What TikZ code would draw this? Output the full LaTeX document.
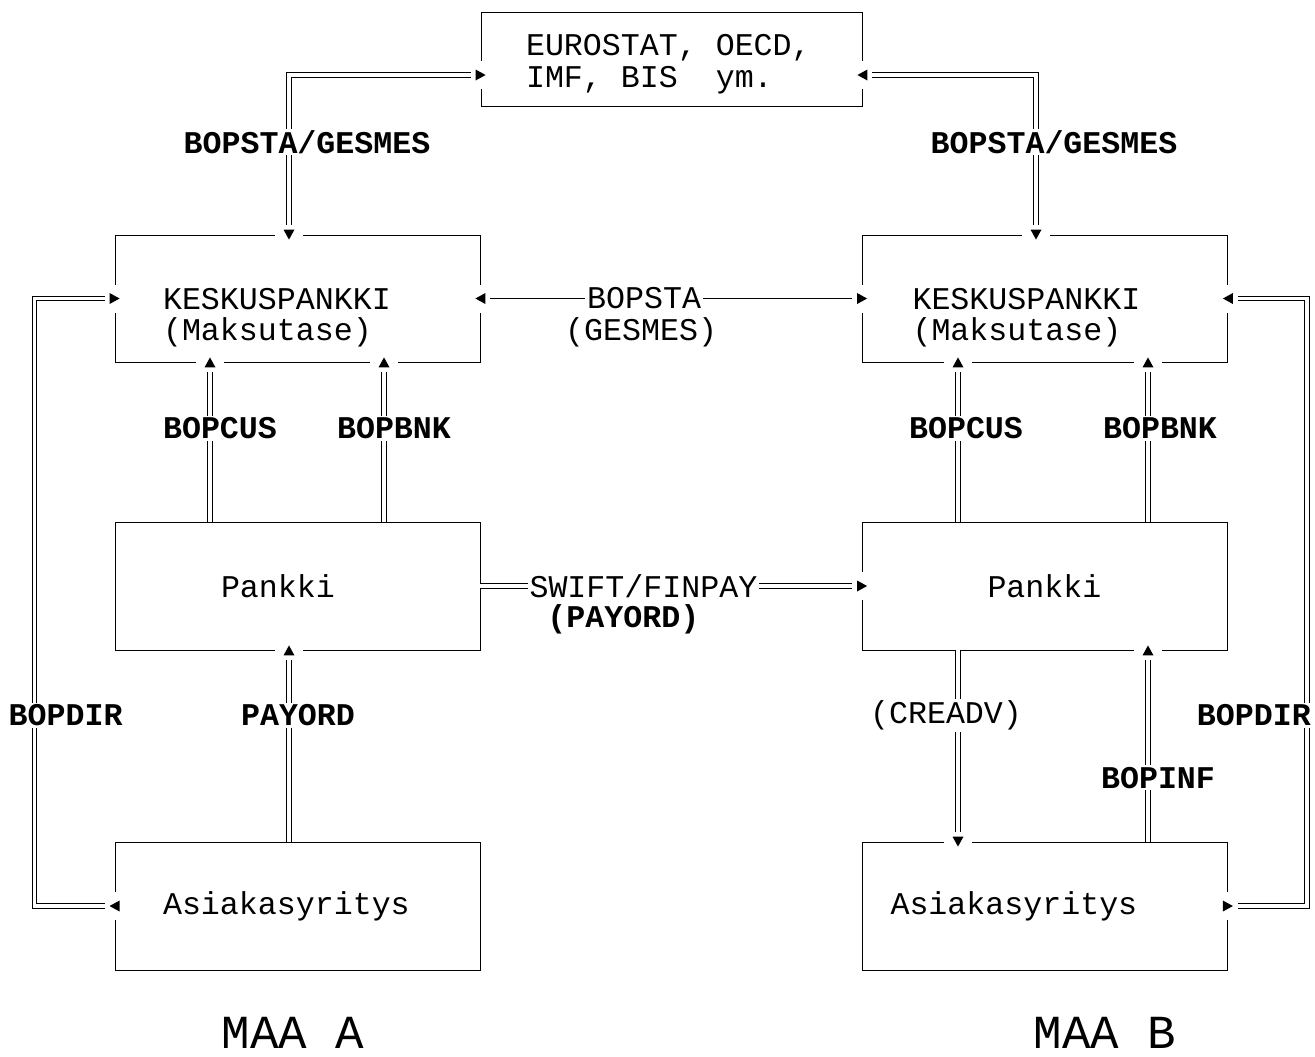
\documentclass[tikz,border=0pt]{standalone}
\usepackage{fontspec}
\setmainfont{Liberation Mono}
\usetikzlibrary{calc,positioning}

\tikzset{
  box/.style={draw,line width=0.5pt,align=left,minimum width=7.3cm,minimum height=2.56cm,
    execute at begin node={\spaceskip=0.6em\relax}},
  dbl/.style={double,double distance=2pt,line width=0.6pt},
  sgl/.style={line width=0.5pt},
  lbl/.style={fill=white,inner sep=1pt,font=\fontsize{18}{18}\selectfont\bfseries},
  lblr/.style={fill=white,inner sep=1pt},
  gaptip/.pic={
    \fill[white] (-3,-14) rectangle (3,14);
    \fill (5,0) -- (-5,5.5) -- (-5,-5.5) -- cycle;
  }
}

\begin{document}
\begin{tikzpicture}[x=0.02cm,y=-0.02cm,every node/.style={font=\fontsize{18}{18}\selectfont}]
  \frenchspacing
  \useasboundingbox (0,0) rectangle (1315,1056);

  % boxes
  \node[box,minimum width=7.62cm,minimum height=1.88cm,text width=5.82cm,inner xsep=0.9cm] (es) at (671.5,59) {\rule{0pt}{18pt}EUROSTAT, OECD,\\IMF, BIS\ \ ym.};
  \node[box,minimum height=2.54cm,text width=5.38cm,inner xsep=0.96cm] (kpA) at (297.5,298.5) {\rule{0pt}{34pt}KESKUSPANKKI\\(Maksutase)};
  \node[box,minimum height=2.54cm,text width=5.3cm,inner xsep=1cm] (kpB) at (1045,298.5) {\rule{0pt}{34pt}KESKUSPANKKI\\(Maksutase)};
  \node[box,text width=3.06cm,inner xsep=2.12cm] (pkA) at (297.5,586) {Pankki};
  \node[box,text width=2.3cm,inner xsep=2.5cm] (pkB) at (1045,586) {Pankki};
  \node[box,text width=5.38cm,inner xsep=0.96cm] (asA) at (297.5,906) {Asiakasyritys};
  \node[box,text width=6.18cm,inner xsep=0.56cm] (asB) at (1045,906) {Asiakasyritys};

  \coordinate (esW) at ([yshift=-0.32cm]es.west);
  \coordinate (esE) at ([yshift=-0.32cm]es.east);

  % to EUROSTAT etc.
  \draw[dbl,shorten <=0.2cm,shorten >=0.2cm] (esW) -| node[lbl,pos=0.71,xshift=0.36cm] {BOPSTA/GESMES} (kpA.north -| 289,0);
  \draw[dbl,shorten <=0.2cm,shorten >=0.2cm] (esE) -| node[lbl,pos=0.71,xshift=0.36cm] {BOPSTA/GESMES} (kpB.north -| 1036,0);

  % between the central banks
  \draw[sgl,shorten <=0.2cm,shorten >=0.2cm] (kpA.east) -- node[lblr,pos=0.429] (bs) {BOPSTA} (kpB.west);
  \node[lblr,anchor=base] (gs) at ([xshift=-0.06cm,yshift=-18pt]bs.base) {(GESMES)};

  % between the banks
  \draw[dbl,shorten >=0.2cm] (pkA.east) -- node[lblr,pos=0.427] (sw) {SWIFT/FINPAY} (pkB.west);
  \node[lbl,anchor=base] (po) at ([xshift=-0.4cm,yshift=-17pt]sw.base) {(PAYORD)};

  % bank -> central bank
  \draw[dbl,shorten >=0.2cm] (pkA.north -| 210,0) -- node[lbl,pos=0.5875,xshift=0.2cm] {BOPCUS} (kpA.south -| 210,0);
  \draw[dbl,shorten >=0.2cm] (pkA.north -| 384,0) -- node[lbl,pos=0.5875,xshift=0.2cm] {BOPBNK} (kpA.south -| 384,0);
  \draw[dbl,shorten >=0.2cm] (pkB.north -| 958,0) -- node[lbl,pos=0.5875,xshift=0.16cm] {BOPCUS} (kpB.south -| 958,0);
  \draw[dbl,shorten >=0.2cm] (pkB.north -| 1148,0) -- node[lbl,pos=0.5875,xshift=0.24cm] {BOPBNK} (kpB.south -| 1148,0);

  % customer <-> bank
  \draw[dbl,shorten >=0.2cm] (asA.north -| 289,0) -- node[lbl,pos=0.661,xshift=0.18cm] {PAYORD} (pkA.south -| 289,0);
  \draw[dbl,shorten >=0.2cm] (pkB.south -| 958,0) -- node[lblr,pos=0.339,xshift=-0.24cm] {(CREADV)} (asB.north -| 958,0);
  \draw[dbl,shorten >=0.2cm] (asB.north -| 1148,0) -- node[lbl,pos=0.333,xshift=0.2cm] {BOPINF} (pkB.south -| 1148,0);

  % direct reporting
  \draw[dbl,shorten <=0.2cm,shorten >=0.2cm] (asA.west) -- ++(-80,0) |- node[lbl,pos=0.157,xshift=0.62cm] {BOPDIR} (kpA.west);
  \draw[dbl,shorten <=0.2cm,shorten >=0.2cm] (asB.east) -- ++(79,0) |- node[lbl,pos=0.157,xshift=-1.06cm] {BOPDIR} (kpB.east);

  % arrow tips
  \pic at (esW) {gaptip};
  \pic[rotate=180] at (esE) {gaptip};
  \pic[rotate=-90] at (kpA.north -| 289,0) {gaptip};
  \pic[rotate=-90] at (kpB.north -| 1036,0) {gaptip};
  \pic[rotate=180] at (kpA.east) {gaptip};
  \pic at (kpB.west) {gaptip};
  \pic at (kpA.west) {gaptip};
  \pic[rotate=180] at (kpB.east) {gaptip};
  \pic[rotate=90] at (kpA.south -| 210,0) {gaptip};
  \pic[rotate=90] at (kpA.south -| 384,0) {gaptip};
  \pic[rotate=90] at (kpB.south -| 958,0) {gaptip};
  \pic[rotate=90] at (kpB.south -| 1148,0) {gaptip};
  \pic at (pkB.west) {gaptip};
  \pic[rotate=90] at (pkA.south -| 289,0) {gaptip};
  \pic[rotate=90] at (pkB.south -| 1148,0) {gaptip};
  \pic[rotate=-90] at (asB.north -| 958,0) {gaptip};
  \pic[rotate=180] at (asA.west) {gaptip};
  \pic at (asB.east) {gaptip};

  \node[font=\fontsize{27}{27}\selectfont,inner sep=0pt] (maaA) at (293,1033) {MAA A};
  \node[font=\fontsize{27}{27}\selectfont,inner sep=0pt] (maaB) at (1105,1033) {MAA B};
\end{tikzpicture}
\end{document}
